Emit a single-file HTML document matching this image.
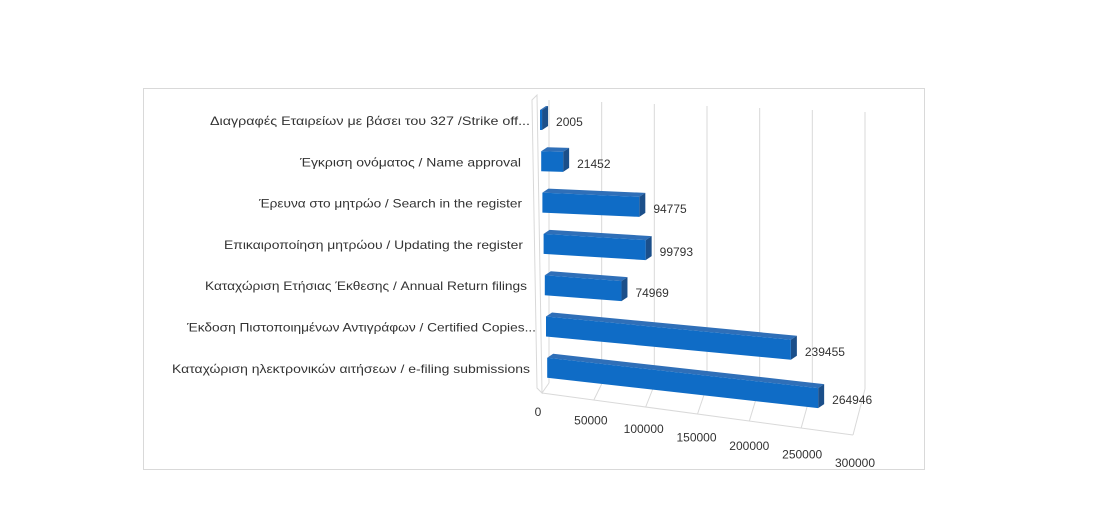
<!DOCTYPE html>
<html><head><meta charset="utf-8"><style>
html,body{margin:0;padding:0;background:#fff;}
svg{display:block;font-family:"Liberation Sans","DejaVu Sans",sans-serif;}
</style></head><body>
<svg id="chart" width="1100" height="513" viewBox="0 0 1100 513" xmlns="http://www.w3.org/2000/svg">
<rect x="143.5" y="88.5" width="781" height="381" fill="#fff" stroke="#d9d9d9"/>
<g id="grid"></g>
<g id="bars"></g>
<g id="labels"></g>
<g id="ticks"></g>
</svg>
<script>
const categories = [
 "Διαγραφές Εταιρείων  με  βάσει του 327 /Strike off...",
 "Έγκριση ονόματος / Name approval",
 "Έρευνα στο μητρώο / Search in the register",
 "Επικαιροποίηση μητρώου / Updating the register",
 "Καταχώριση Ετήσιας Έκθεσης / Annual Return filings",
 "Έκδοση Πιστοποιημένων Αντιγράφων  / Certified Copies...",
 "Καταχώριση ηλεκτρονικών αιτήσεων / e-filing submissions"
];
const values = [2005, 21452, 94775, 99793, 74969, 239455, 264946];
const tickValues = [0, 50000, 100000, 150000, 200000, 250000, 300000];
const tickLabels = ["0","50000","100000","150000","200000","250000","300000"];

const NS = "http://www.w3.org/2000/svg";
function mk(tag, attrs, parent){const e=document.createElementNS(NS,tag);for(const k in attrs)e.setAttribute(k,attrs[k]);parent.appendChild(e);return e;}
const labelWidths=[320,221,263,299,322,349,358];
const labelRight=[530,521,522,523,527,536,530];
// axis functions
const pxPerUnit = 271/265000;
function xLen(v){return v*pxPerUnit;}
function rowTop(i){return 110 + i*41.3;}
function rowLeft(i){return 540 + i*1.2;}
function rowSlope(i){return 0.01 + 0.017*i;}
function frontX(v){return 542 + v/300000*311;}
function frontY(v){return 393 + v/300000*42;}
function backX(v){return 549 + v/300000*316;}

const grid=document.getElementById('grid');
// left wall
let lw=mk('path',{d:'M532,100 L537,95 L542,393 L537,388 Z',fill:'none',stroke:'#d9d9d9'},grid);


tickValues.forEach((v,k)=>{
  const bx=backX(v), by=100+v/300000*12, bb=383+v/300000*6;
  const l=mk('line',{x1:bx,y1:by,x2:bx,y2:bb,stroke:'#d9d9d9'},grid);
  
  
  const f=mk('line',{x1:bx,y1:bb,x2:frontX(v),y2:frontY(v),stroke:'#d9d9d9'},grid);
  
  
  const t=mk('text',{x:frontX(v)-4+k*1,y:frontY(v)+23+k*1.5,'font-size':'12',fill:'#333','text-anchor':'middle'},document.getElementById('ticks'));
  t.textContent=tickLabels[k];
  
  
});
const fl=mk('line',{x1:frontX(0),y1:frontY(0),x2:frontX(300000),y2:frontY(300000),stroke:'#d9d9d9'},grid);



const bars=document.getElementById('bars'), labels=document.getElementById('labels');
values.forEach((v,i)=>{
  const x0=rowLeft(i), y0=rowTop(i), L=xLen(v), s=rowSlope(i), h=20, d=6, up=4;
  const x1=x0+L, y1=y0+s*L;
  const g=mk('g',{},bars);
  
  
  mk('path',{d:`M${x0},${y0} L${x0+d},${y0-up} L${x1+d},${y1-up} L${x1},${y1} Z`,fill:'#2f6fb8'},g);
  mk('path',{d:`M${x1},${y1} L${x1+d},${y1-up} L${x1+d},${y1-up+h} L${x1},${y1+h} Z`,fill:'#1b4f8a'},g);
  mk('path',{d:`M${x0},${y0} L${x1},${y1} L${x1},${y1+h} L${x0},${y0+h} Z`,fill:'#0f6cc6'},g);
  const vl=mk('text',{x:x1+14,y:y1+16,'font-size':'12',fill:'#333'},bars);
  vl.textContent=String(values[i]);
  
  
  const cl=mk('text',{x:labelRight[i],y:y0+15,'font-size':'12',fill:'#333','text-anchor':'end',textLength:labelWidths[i],lengthAdjust:'spacingAndGlyphs'},labels);
  cl.textContent=categories[i];
  
  
});
</script>
</body></html>
